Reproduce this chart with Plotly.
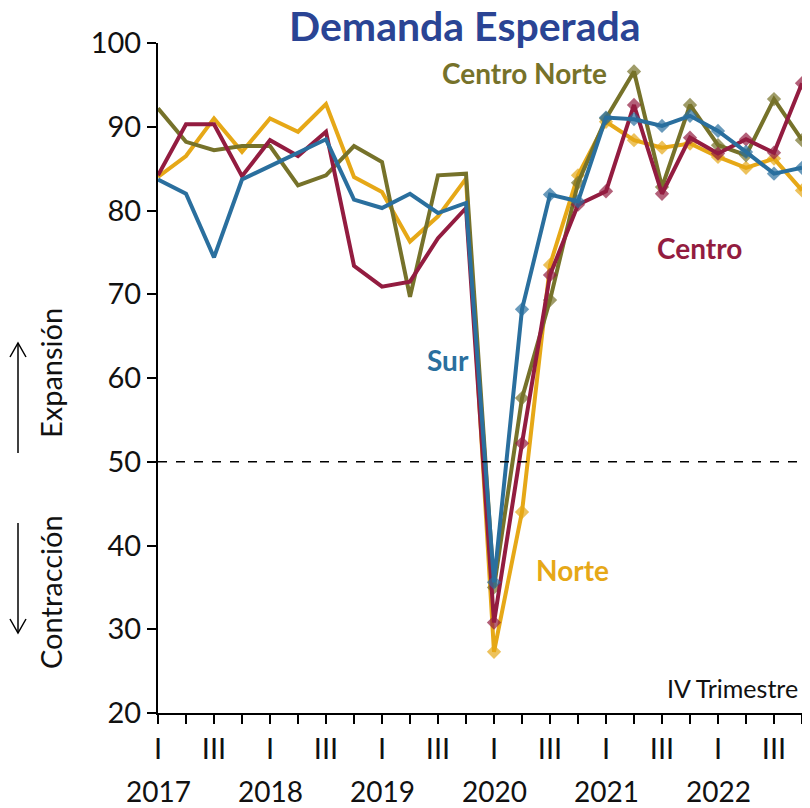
import plotly.graph_objects as go

years = ["2017", "2018", "2019", "2020", "2021", "2022"]
quarter_labels = ["I", "", "III", ""]

norte = [84.0, 86.5, 91.0, 87.0, 91.0, 89.4, 92.7, 84.0, 82.2, 76.3, 79.3, 83.8,
         27.3, 44.0, 73.5, 84.2, 90.6, 88.4, 87.5, 88.0, 86.4, 85.1, 86.2, 82.4]
centro_norte = [92.2, 88.2, 87.2, 87.7, 87.7, 83.0, 84.2, 87.7, 85.8, 69.7, 84.2, 84.4,
                35.0, 57.6, 69.3, 83.3, 91.0, 96.6, 82.8, 92.6, 87.8, 86.6, 93.3, 88.4]
centro = [84.2, 90.3, 90.3, 84.1, 88.4, 86.5, 89.4, 73.4, 70.9, 71.5, 76.7, 80.3,
          30.8, 52.2, 72.3, 80.7, 82.3, 92.6, 82.0, 88.7, 86.8, 88.5, 86.9, 95.2]
sur = [83.7, 82.0, 74.4, 83.7, 85.3, 86.9, 88.5, 81.3, 80.3, 82.0, 79.7, 80.9,
       35.6, 68.2, 81.9, 81.1, 91.1, 90.9, 90.1, 91.3, 89.5, 87.0, 84.4, 85.1]

n = len(sur)
x = list(range(n))
marker_start = 12  # markers shown from 2020 I onward
msize = [0] * marker_start + [11] * (n - marker_start)

series = [
    ("Norte", norte, "#E6A817"),
    ("Centro Norte", centro_norte, "#76722A"),
    ("Centro", centro, "#931C40"),
    ("Sur", sur, "#2A6F9E"),
]

FONT = "Lato, Carlito, Calibri, sans-serif"
TXT = "#111111"

# page has an 8px body margin; figure is 802x800 so it ends at the window edge
OFF = 8
W, H = 810 - OFF, 808 - OFF
L, T, PW, PH = 158, 43, 644, 670   # plot area in window pixels

fig = go.Figure()
for name, vals, col in series:
    fig.add_trace(go.Scatter(
        x=x, y=vals, mode="lines+markers", name=name,
        line=dict(color=col, width=4),
        marker=dict(symbol="diamond", size=msize, color=col, line=dict(width=0)),
        cliponaxis=False,
    ))

fig.add_shape(type="line", xref="paper", yref="y", x0=0, x1=1, y0=50, y1=50,
              line=dict(color="black", width=1.5, dash="dash"))

ticktext = [quarter_labels[i % 4] for i in range(n)]

fig.update_layout(
    width=W, height=H,
    margin=dict(l=L - OFF, r=W - (L - OFF) - PW, t=T - OFF, b=H - (T - OFF) - PH),
    plot_bgcolor="white", paper_bgcolor="white",
    showlegend=False,
    font=dict(family=FONT, color=TXT),
    xaxis=dict(
        range=[0, n - 1], tickmode="array", tickvals=x, ticktext=ticktext,
        showgrid=False, zeroline=False, showline=True, linecolor="black", linewidth=2,
        ticks="outside", ticklen=9, tickwidth=1.5, tickcolor="black",
        tickfont=dict(size=29, family=FONT, color=TXT), tickangle=0,
    ),
    yaxis=dict(
        range=[20, 100], tickmode="array", tickvals=[20, 30, 40, 50, 60, 70, 80, 90, 100],
        showgrid=False, zeroline=False, showline=True, linecolor="black", linewidth=2,
        ticks="outside", ticklen=9, tickwidth=1.5, tickcolor="black",
        tickfont=dict(size=29, family=FONT, color=TXT),
    ),
)


def px(xp):
    return (xp - L) / PW


def py(yp):
    return (T + PH - yp) / PH


for k, yr in enumerate(years):
    fig.add_annotation(x=4 * k, y=py(791), xref="x", yref="paper", text=yr,
                       showarrow=False, font=dict(size=28, family=FONT, color=TXT),
                       xanchor="center", yanchor="middle")

fig.add_annotation(x=px(465), y=py(25), xref="paper", yref="paper",
                   text="<b>Demanda Esperada</b>", showarrow=False,
                   font=dict(size=41, family=FONT, color="#2A4494"),
                   xanchor="center", yanchor="middle", borderpad=0)

labels = [
    ("<b>Centro Norte</b>", 524, 73, "#76722A"),
    ("<b>Centro</b>", 699, 248, "#931C40"),
    ("<b>Sur</b>", 448, 360, "#2A6F9E"),
    ("<b>Norte</b>", 572, 570, "#E6A817"),
]
for txt, xp, yp, col in labels:
    fig.add_annotation(x=px(xp), y=py(yp), xref="paper", yref="paper", text=txt,
                       showarrow=False, font=dict(size=28, family=FONT, color=col),
                       xanchor="center", yanchor="middle")

fig.add_annotation(x=px(800), y=py(688), xref="paper", yref="paper", text="IV Trimestre",
                   showarrow=False, font=dict(size=25, family=FONT, color=TXT),
                   xanchor="right", yanchor="middle")

fig.add_annotation(x=px(50), y=py(373), xref="paper", yref="paper", text="Expansión",
                   textangle=-90, showarrow=False,
                   font=dict(size=29, family=FONT, color=TXT),
                   xanchor="center", yanchor="middle")
fig.add_annotation(x=px(50), y=py(592), xref="paper", yref="paper", text="Contracción",
                   textangle=-90, showarrow=False,
                   font=dict(size=29, family=FONT, color=TXT),
                   xanchor="center", yanchor="middle")

# arrows with open heads
ax_ = 18
for y_tail, y_head in [(453, 343), (523, 633)]:
    fig.add_shape(type="line", xref="paper", yref="paper",
                  x0=px(ax_), x1=px(ax_), y0=py(y_tail), y1=py(y_head),
                  line=dict(color="black", width=1.5))
    d = 1 if y_head > y_tail else -1
    path = "M {} {} L {} {} L {} {}".format(
        px(ax_ - 8), py(y_head - d * 14), px(ax_), py(y_head), px(ax_ + 8), py(y_head - d * 14))
    fig.add_shape(type="path", xref="paper", yref="paper", path=path,
                  line=dict(color="black", width=1.5))

fig.write_html("out.html")
